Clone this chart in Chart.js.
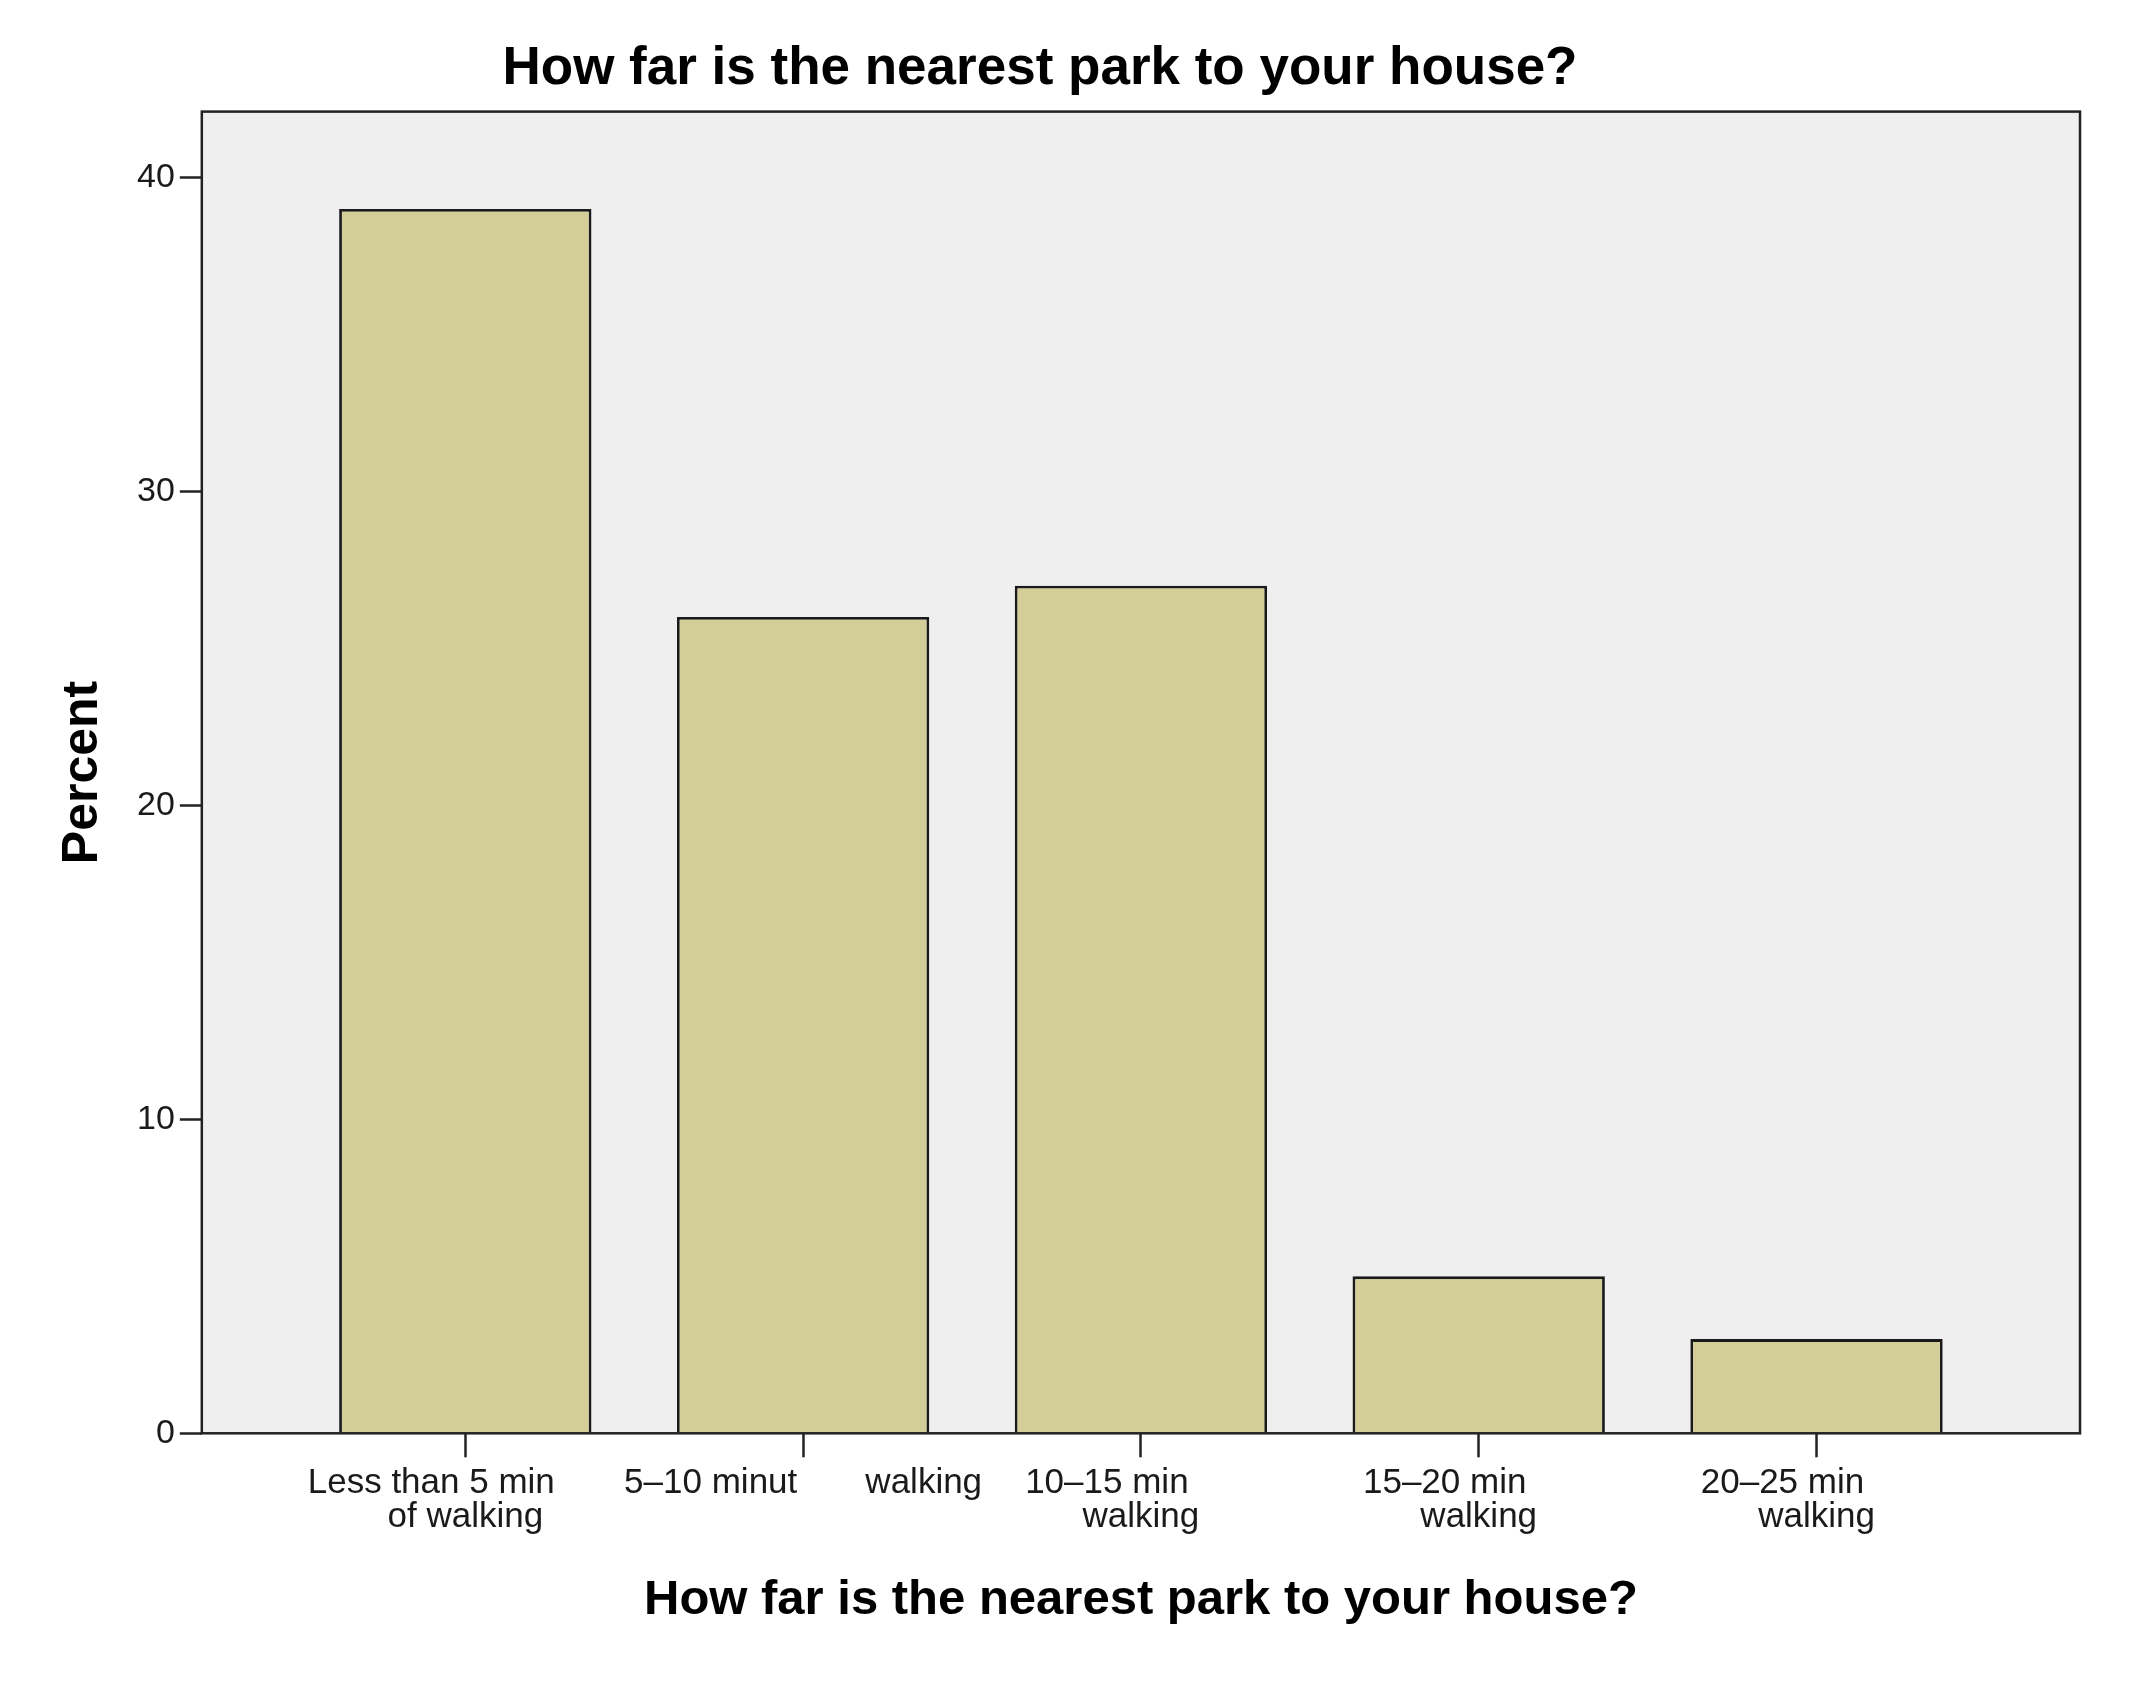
<!DOCTYPE html>
<html>
<head>
<meta charset="utf-8">
<script src="https://cdn.jsdelivr.net/npm/chart.js@4/dist/chart.umd.min.js"></script>
<style>
  html, body { margin: 0; padding: 0; background: #ffffff; }
  #wrap { width: 2150px; height: 1681px; }
</style>
</head>
<body>
<div id="wrap"><canvas id="c" width="2150" height="1681"></canvas></div>
<script>
const chartTitle = "How far is the nearest park to your house?";
const xAxisTitle = "How far is the nearest park to your house?";
const yAxisTitle = "Percent";
const categories = [
  ["Less than 5 min       ", "of walking"],
  ["5–10 minut       walking"],
  ["10–15 min       ", "walking"],
  ["15–20 min       ", "walking"],
  ["20–25 min       ", "walking"]
];
const percentValues = [39, 26, 27, 5, 3];
const yTickValues = [0, 10, 20, 30, 40];

const FONT = "'Liberation Sans', Arial, Helvetica, sans-serif";

const plotFrame = {
  id: 'plotFrame',
  beforeDatasetsDraw(chart) {
    const a = chart.chartArea, ctx = chart.ctx;
    ctx.save();
    ctx.fillStyle = '#efefef';
    ctx.fillRect(a.left, a.top, a.right - a.left, a.bottom - a.top);
    ctx.restore();
  },
  afterDatasetsDraw(chart) {
    const a = chart.chartArea, ctx = chart.ctx;
    ctx.save();
    ctx.strokeStyle = '#222222';
    ctx.lineWidth = 2.5;
    ctx.strokeRect(a.left, a.top, a.right - a.left, a.bottom - a.top);
    ctx.restore();
  }
};

new Chart(document.getElementById('c'), {
  type: 'bar',
  data: {
    datasets: [{
      data: percentValues.map((v, i) => ({ x: i, y: v })),
      backgroundColor: '#d3ce97',
      borderColor: '#1a1a1a',
      borderWidth: 2.8,
      barPercentage: 0.747,
      categoryPercentage: 1.0
    }]
  },
  options: {
    responsive: false,
    animation: false,
    devicePixelRatio: 1,
    layout: { padding: { left: 0, right: 70, top: 0, bottom: 0 } },
    plugins: {
      legend: { display: false },
      tooltip: { enabled: false },
      title: {
        display: true,
        text: chartTitle,
        color: '#000000',
        font: { family: FONT, size: 53, weight: 'bold', lineHeight: 1.2 },
        padding: { top: 38, bottom: 10 }
      }
    },
    scales: {
      x: {
        type: 'linear',
        offset: false,
        min: -0.78,
        max: 4.78,
        afterBuildTicks: (axis) => { axis.ticks = categories.map((_, i) => ({ value: i })); },
        ticks: {
          callback: (v) => categories[v],
          color: '#1a1a1a',
          font: { family: FONT, size: 35, lineHeight: 0.97 },
          padding: 9,
          maxRotation: 0,
          autoSkip: false
        },
        grid: {
          offset: false,
          drawOnChartArea: false,
          drawTicks: true,
          tickLength: 24,
          tickWidth: 2.5,
          tickColor: '#222222'
        },
        border: { display: false },
        title: {
          display: true,
          text: xAxisTitle,
          color: '#000000',
          font: { family: FONT, size: 49, weight: 'bold', lineHeight: 1.2 },
          padding: { top: 28, bottom: 51 }
        }
      },
      y: {
        min: 0,
        max: 42.1,
        afterBuildTicks: (axis) => { axis.ticks = yTickValues.map(v => ({ value: v })); },
        ticks: {
          color: '#1a1a1a',
          font: { family: FONT, size: 34 },
          padding: 5
        },
        grid: {
          drawOnChartArea: false,
          drawTicks: true,
          tickLength: 22,
          tickWidth: 2.5,
          tickColor: '#222222'
        },
        border: { display: false },
        title: {
          display: true,
          text: yAxisTitle,
          color: '#000000',
          font: { family: FONT, size: 50, weight: 'bold', lineHeight: 1.2 },
          padding: { top: 53, bottom: 19 }
        }
      }
    }
  },
  plugins: [plotFrame]
});
</script>
</body>
</html>
